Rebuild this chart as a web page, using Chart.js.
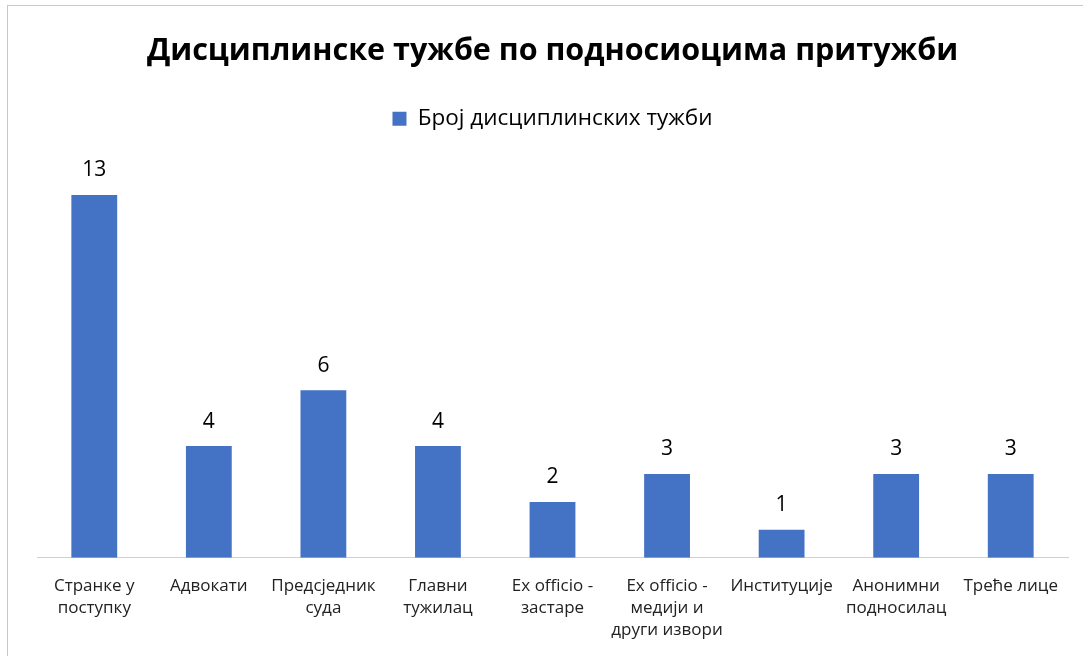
<!DOCTYPE html>
<html>
<head>
  <meta charset="utf-8">
  <title>Дисциплинске тужбе</title>
  <script src="https://cdn.jsdelivr.net/npm/chart.js@4/dist/chart.umd.min.js"></script>
  <style>
    body { margin: 0; background: #fff; }
    #wrap { position: relative; width: 1083px; height: 656px; }
    #frame { position: absolute; left: 7px; top: 5px; right: -2px; bottom: -2px; border: 1px solid #c8c8c8; }
    canvas { position: absolute; left: 0; top: 0; }
  </style>
</head>
<body>
  <div id="wrap">
    <div id="frame"></div>
    <canvas id="chart" width="1083" height="656"></canvas>
  </div>
  <script>
    // categories (multi-line labels as in the original)
    var categories = [
      ["Странке у", "поступку"],
      "Адвокати",
      ["Предсједник", "суда"],
      ["Главни", "тужилац"],
      ["Ex officio -", "застаре"],
      ["Ex officio -", "медији и", "други извори"],
      "Институције",
      ["Анонимни", "подносилац"],
      "Треће лице"
    ];
    var counts = [13, 4, 6, 4, 2, 3, 1, 3, 3];
    var seriesName = "Број дисциплинских тужби";
    var titleText = "Дисциплинске тужбе по подносиоцима притужби";

    var fontFamily = "'Open Sans', 'Noto Sans', sans-serif";

    // draws the value above each bar
    var valueLabels = {
      id: "valueLabels",
      afterDatasetsDraw: function(chart) {
        var ctx = chart.ctx;
        var meta = chart.getDatasetMeta(0);
        ctx.save();
        ctx.fillStyle = "#000";
        ctx.font = "21px " + fontFamily;
        ctx.textAlign = "center";
        ctx.textBaseline = "bottom";
        meta.data.forEach(function(bar, i) {
          ctx.fillText(counts[i], bar.x, bar.y - 14);
        });
        ctx.restore();
      }
    };

    // extra gap between legend and plot
    var legendGap = {
      id: "legendGap",
      beforeInit: function(chart) {
        var fit = chart.legend.fit;
        chart.legend.fit = function() {
          fit.bind(chart.legend)();
          this.height += 27;
        };
      }
    };

    var ctx = document.getElementById("chart").getContext("2d");
    var chart = new Chart(ctx, {
      type: "bar",
      data: {
        labels: categories,
        datasets: [{
          label: seriesName,
          data: counts,
          backgroundColor: "#4472c4",
          barPercentage: 0.4,
          categoryPercentage: 1.0
        }]
      },
      options: {
        responsive: false,
        animation: false,
        layout: { padding: { left: 37, right: 15, top: 33, bottom: 6 } },
        plugins: {
          title: {
            display: true,
            text: titleText,
            color: "#000",
            font: { family: fontFamily, size: 30.5, weight: "bold" },
            padding: { top: 0, bottom: 28 }
          },
          legend: {
            display: true,
            labels: {
              color: "#000",
              font: { family: fontFamily, size: 22.5 },
              boxWidth: 14,
              boxHeight: 14,
              padding: 10
            }
          },
          tooltip: { enabled: false }
        },
        scales: {
          x: {
            grid: { display: false },
            border: { display: true, color: "#d0d0d0", width: 1 },
            ticks: {
              color: "#222",
              font: { family: fontFamily, size: 17, lineHeight: 1.3 },
              maxRotation: 0,
              autoSkip: false,
              padding: 9
            }
          },
          y: {
            display: false,
            min: 0,
            max: 14
          }
        }
      },
      plugins: [valueLabels, legendGap]
    });
  </script>
</body>
</html>
